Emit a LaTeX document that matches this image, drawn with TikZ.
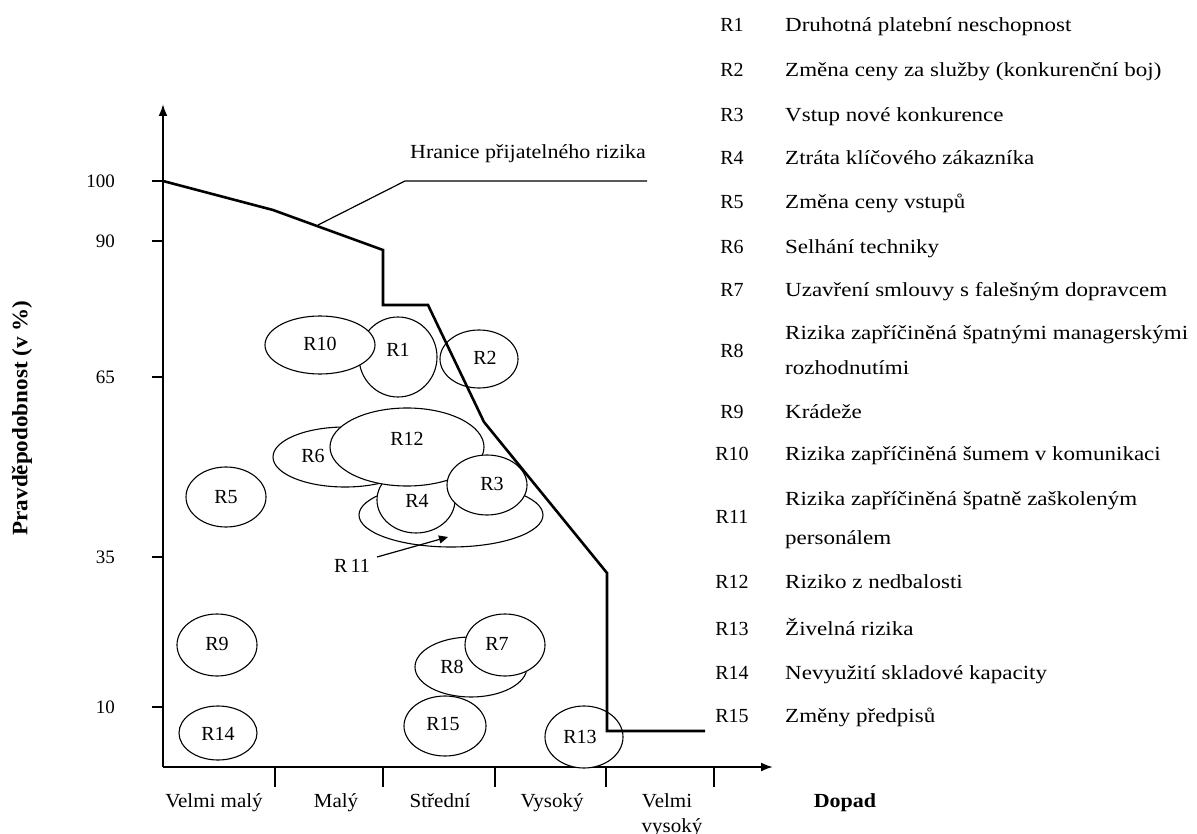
\documentclass[tikz,border=0pt]{standalone}
\usepackage{fontspec}
\setmainfont{Liberation Serif}
\newfontfamily\legfont{Liberation Serif}[FakeStretch=1.15]
\newfontfamily\hrfont{Liberation Serif}[FakeStretch=1.1]
\newfontfamily\axfont{Liberation Serif}[FakeStretch=1.05]
\usetikzlibrary{shapes.geometric,arrows.meta}
\begin{document}
\begin{tikzpicture}[x=1pt,y=-1pt,
  font=\fontsize{20}{24}\selectfont,
  risk/.style={ellipse, draw, fill=white, line width=1.1pt, inner sep=0pt},
  axisline/.style={line width=2pt, -{Latex[length=12pt,width=9pt]}},
  tickline/.style={line width=1.4pt},
  boundary/.style={line width=2.6pt, line join=miter},
  leader/.style={line width=1.2pt},
  code/.style={anchor=base, inner sep=0pt},
  desc/.style={anchor=base west, inner sep=0pt, font=\fontsize{20}{24}\legfont},
  txt/.style={inner sep=0pt, anchor=base},
  axlab/.style={inner sep=0pt, anchor=base, font=\fontsize{20}{24}\axfont}]
\useasboundingbox (0,0) rectangle (1197,834);

% axes
\coordinate (o) at (163,767);
\coordinate (ytop) at (163,104);
\coordinate (xend) at (773,767);
\draw[axisline] (o) -- (ytop);
\draw[axisline] (o) -- (xend);

% y ticks and labels
\foreach \yy/\lab/\nm in {181/100/ya, 241/90/yb, 377/65/yc, 557/35/yd, 707/10/ye}{
  \coordinate (\nm t) at (152,\yy);
  \coordinate (\nm a) at (163,\yy);
  \draw[tickline] (\nm t) -- (\nm a);
  \node[anchor=base east, inner sep=0pt, font=\fontsize{19}{22}\selectfont] (\nm) at (115,\yy+6.5) {\lab};
}
% x ticks
\foreach \xx/\nm in {275/xa, 383/xb, 495/xc, 606/xd, 714/xe}{
  \coordinate (\nm a) at (\xx,767);
  \coordinate (\nm b) at (\xx,787);
  \draw[tickline] (\nm a) -- (\nm b);
}
\node[axlab] (lx1) at (214,807) {Velmi malý};
\node[axlab] (lx2) at (336,807) {Malý};
\node[axlab] (lx3) at (440,807) {Střední};
\node[axlab] (lx4) at (552,807) {Vysoký};
\node[axlab] (lx5) at (667,807) {Velmi};
\node[axlab] (lx6) at (672,832) {vysoký};
\node[inner sep=0pt, anchor=base, font=\fontsize{20}{24}\hrfont\bfseries] (dopad) at (845,807) {Dopad};
\node[rotate=90, font=\fontsize{22}{24}\axfont\bfseries] (pravd) at (22,418) {Pravděpodobnost (v \%)};

% risk ellipses (drawing order matters)
\node[risk, minimum width=184, minimum height=64] (r11) at (451,515) {};
\node[risk, minimum width=144, minimum height=60] (r6) at (345,457) {};
\node[risk, minimum width=78, minimum height=66] (r4) at (416,500) {};
\node[risk, minimum width=154, minimum height=78] (r12) at (407,447) {};
\node[risk, minimum width=80, minimum height=60] (r3) at (487,485) {};
\node[risk, minimum width=78, minimum height=80] (r1) at (398,357) {};
\node[risk, minimum width=110, minimum height=58] (r10) at (320,345) {};
\node[risk, minimum width=78, minimum height=58] (r2) at (479,359) {};
\node[risk, minimum width=80, minimum height=60] (r5) at (226,497) {};
\node[risk, minimum width=80, minimum height=62] (r9) at (217,645) {};
\node[risk, minimum width=78, minimum height=54] (r14) at (218,733) {};
\node[risk, minimum width=112, minimum height=60] (r8) at (471,667) {};
\node[risk, minimum width=80, minimum height=62] (r7) at (505,645) {};
\node[risk, minimum width=82, minimum height=60] (r15) at (445,726) {};
\node[risk, minimum width=78, minimum height=62] (r13) at (584,737) {};

% labels in ellipses
\node[txt] (t10) at (320,350) {R10};
\node[txt] (t1) at (398,356) {R1};
\node[txt] (t2) at (485,364) {R2};
\node[txt] (t12) at (407,445) {R12};
\node[txt] (t6) at (313,462) {R6};
\node[txt] (t3) at (492,490) {R3};
\node[txt] (t4) at (417,507) {R4};
\node[txt] (t5) at (226,503) {R5};
\node[txt] (t9) at (217,650) {R9};
\node[txt] (t7) at (497,650) {R7};
\node[txt] (t8) at (452,673) {R8};
\node[txt] (t14) at (218,740) {R14};
\node[txt] (t15) at (443,730) {R15};
\node[txt] (t13) at (580,743) {R13};

% R11 pointer
\node[txt] (t11) at (352,572) {R\,11};
\coordinate (r11s) at (377,557);
\coordinate (r11tip) at (448,537);
\draw[leader, -{Triangle[length=9pt,width=8pt]}] (r11s) -- (r11tip);

% acceptable-risk boundary
\coordinate (b0) at (163,181);
\coordinate (b1) at (273,210);
\coordinate (b2) at (383,250);
\coordinate (b3) at (383,305);
\coordinate (b4) at (428,305);
\coordinate (b5) at (484,422);
\coordinate (b6) at (607,573);
\coordinate (b7) at (607,731);
\coordinate (b8) at (705,731);
\draw[boundary] (b0) -- (b1) -- (b2) -- (b3) -- (b4) -- (b5) -- (b6) -- (b7) -- (b8);

% leader to boundary label
\node[inner sep=0pt, anchor=base, font=\fontsize{20}{24}\hrfont] (hr) at (528,159) {Hranice přijatelného rizika};
\coordinate (lA) at (318,225);
\coordinate (lB) at (405,181);
\coordinate (lC) at (647,181);
\draw[leader] (lA) -- (lB) -- (lC);

% legend
\foreach \yy/\c/\d/\nm in {
  25/R1/{Druhotná platební neschopnost}/g1,
  70/R2/{Změna ceny za služby (konkurenční boj)}/g2,
  115/R3/{Vstup nové konkurence}/g3,
  158/R4/{Ztráta klíčového zákazníka}/g4,
  202/R5/{Změna ceny vstupů}/g5,
  247/R6/{Selhání techniky}/g6,
  290/R7/{Uzavření smlouvy s falešným dopravcem}/g7,
  411/R9/{Krádeže}/g9,
  453/R10/{Rizika zapříčiněná šumem v komunikaci}/g10,
  581/R12/{Riziko z nedbalosti}/g12,
  628/R13/{Živelná rizika}/g13,
  672/R14/{Nevyužití skladové kapacity}/g14,
  715/R15/{Změny předpisů}/g15}{
  \node[code] (\nm c) at (732,\yy+7) {\c};
  \node[desc] (\nm d) at (785,\yy+7) {\d};
}
\node[code] (g8c) at (732,357) {R8};
\node[desc] (g8d) at (785,340) {Rizika zapříčiněná špatnými managerskými};
\node[desc] (g8e) at (785,374) {rozhodnutími};
\node[code] (g11c) at (732,523) {R11};
\node[desc] (g11d) at (785,505) {Rizika zapříčiněná špatně zaškoleným};
\node[desc] (g11e) at (785,544) {personálem};
\end{tikzpicture}
\end{document}
